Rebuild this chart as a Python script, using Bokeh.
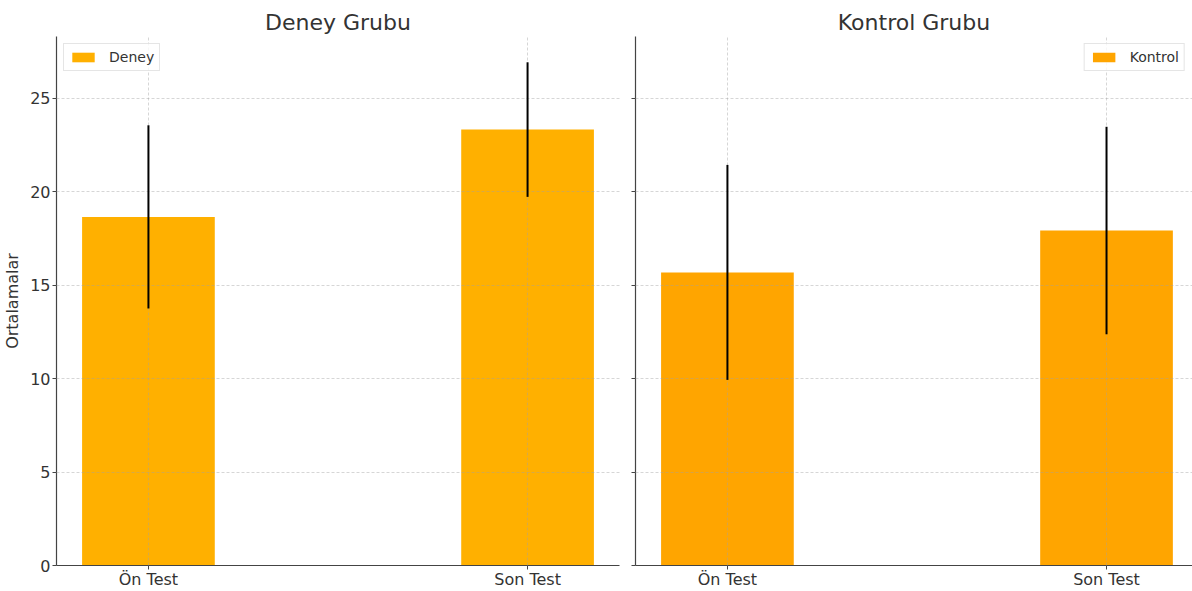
from bokeh.plotting import figure
from bokeh.layouts import row
from bokeh.models import FixedTicker, Range1d, Legend, LegendItem
from bokeh.embed import file_html
from bokeh.resources import INLINE

categories = ["Ön Test", "Son Test"]
deney_means = [18.65, 23.32]
deney_errors = [4.9, 3.6]
kontrol_means = [15.68, 17.92]
kontrol_errors = [5.75, 5.55]

titles = ["Deney Grubu", "Kontrol Grubu"]
labels = ["Deney", "Kontrol"]
colors = ["#FFB000", "#FFA500"]
y_ticks = [0, 5, 10, 15, 20, 25]

FONT = "DejaVu Sans"
TXT = "#333333"

x_pos = list(range(len(categories)))
bar_w = 0.35


def make_panel(means, errors, title, label, color, first):
    lower = [m - e for m, e in zip(means, errors)]
    upper = [m + e for m, e in zip(means, errors)]
    if first:
        x_end = 1.2425
        w = 627
        mbl, mbr = 56, 8
    else:
        x_end = 1.2268
        w = 565
        mbl, mbr = 8, 0
    p = figure(width=w, height=591, output_backend="svg", toolbar_location=None,
               x_range=Range1d(-0.2425, x_end), y_range=Range1d(0, 28.3),
               min_border_left=mbl, min_border_right=mbr, min_border_top=36,
               min_border_bottom=20)
    p.title.text = title
    p.title.align = "center"
    p.title.text_font = FONT
    p.title.text_font_size = "22px"
    p.title.text_font_style = "normal"
    p.title.text_color = TXT
    p.title.standoff = 3
    p.outline_line_color = None
    p.background_fill_color = "white"
    p.border_fill_color = "white"

    r = p.vbar(x=x_pos, top=means, width=bar_w, bottom=0, fill_color=color,
               line_color=None)
    seg = p.segment(x0=x_pos, y0=lower, x1=x_pos, y1=upper, line_color="black",
                    line_width=2)
    seg.level = "overlay"

    for g in (p.xgrid, p.ygrid):
        g.grid_line_color = "#a0a0a0"
        g.grid_line_alpha = 0.55
        g.grid_line_dash = "3 2"
        g.grid_line_width = 0.8
        g.level = "annotation"

    p.xaxis.ticker = FixedTicker(ticks=x_pos)
    p.xaxis.major_label_overrides = {i: c for i, c in enumerate(categories)}
    p.yaxis.ticker = FixedTicker(ticks=y_ticks)
    for ax in (p.xaxis[0], p.yaxis[0]):
        ax.axis_line_color = "#444444"
        ax.axis_line_width = 1.2
        ax.major_tick_line_color = "#444444"
        ax.major_tick_in = 0
        ax.major_tick_out = 4
        ax.minor_tick_line_color = None
        ax.major_label_text_font = FONT
        ax.major_label_text_font_size = "16px"
        ax.major_label_text_color = TXT
        ax.major_label_standoff = 2
    p.xaxis.major_label_standoff = 0
    if first:
        p.yaxis.axis_label = "Ortalamalar"
        p.yaxis.axis_label_text_font = FONT
        p.yaxis.axis_label_text_font_size = "16px"
        p.yaxis.axis_label_text_font_style = "normal"
        p.yaxis.axis_label_text_color = TXT
        p.yaxis.axis_label_standoff = 5
    else:
        p.yaxis.major_label_overrides = {t: "" for t in y_ticks}
        p.yaxis.major_label_standoff = 0

    legend = Legend(items=[LegendItem(label=label, renderers=[r])],
                    location="top_left" if first else "top_right")
    legend.label_text_font = FONT
    legend.label_text_font_size = "14px"
    legend.label_text_color = TXT
    legend.border_line_color = "#cccccc"
    legend.border_line_width = 1
    legend.background_fill_alpha = 0.8
    legend.margin = 7
    legend.padding = 5
    legend.glyph_width = 28
    legend.glyph_height = 12
    legend.label_height = 14
    legend.label_standoff = 12
    legend.spacing = 0
    p.add_layout(legend, "center")
    return p


p1 = make_panel(deney_means, deney_errors, titles[0], labels[0], colors[0], True)
p2 = make_panel(kontrol_means, kontrol_errors, titles[1], labels[1], colors[1], False)

layout = row(p1, p2)
open("out.html", "w").write(file_html(layout, INLINE))
